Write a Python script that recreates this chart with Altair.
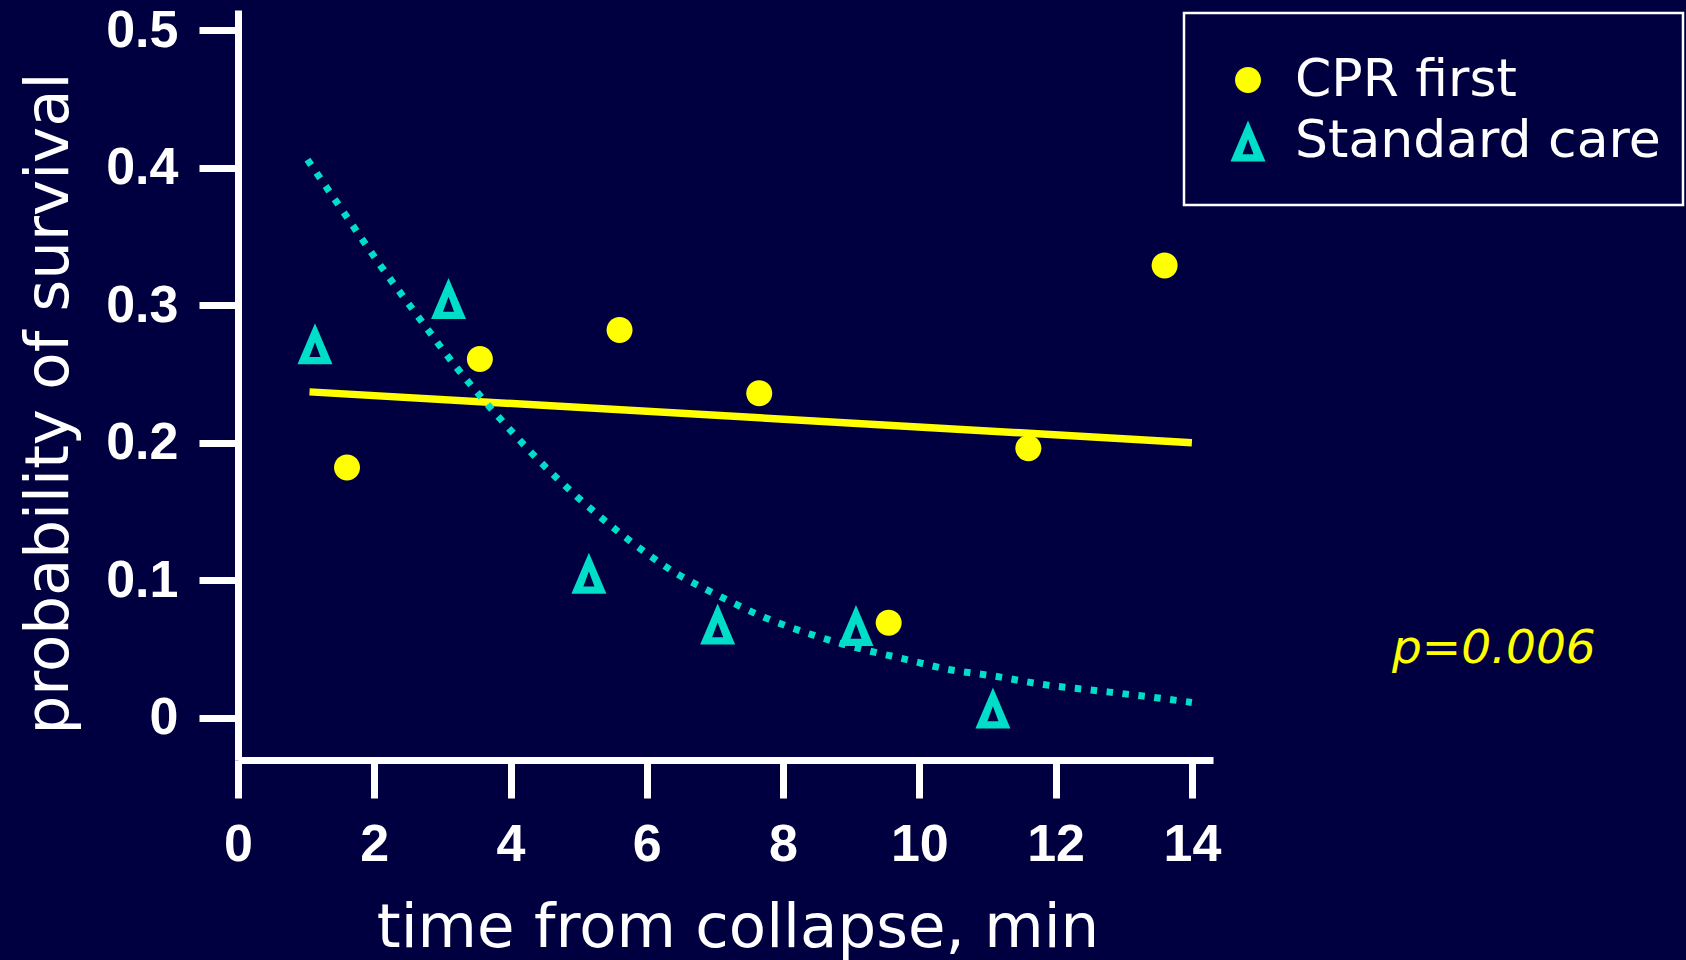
import altair as alt
import pandas as pd

# ---------------- data ----------------
series = ["CPR first", "Standard care"]

cpr_time = [1.6, 3.55, 5.6, 7.65, 9.55, 11.6, 13.6]
cpr_prob = [0.182, 0.261, 0.282, 0.236, 0.069, 0.196, 0.329]

std_time = [1.13, 3.09, 5.15, 7.04, 9.07, 11.08]
std_prob = [0.272, 0.305, 0.105, 0.068, 0.067, 0.007]

cpr_fit_time = [1.05, 14.0]
cpr_fit_prob = [0.237, 0.200]

std_fit_time = [1.02, 1.56, 2.09, 2.64, 3.22, 3.82, 4.30, 4.97, 5.69, 6.43,
                7.08, 7.72, 8.38, 9.06, 9.74, 10.43, 11.12, 11.82, 12.52, 13.22, 14.0]
std_fit_prob = [0.406, 0.367, 0.329, 0.292, 0.254, 0.219, 0.193, 0.161, 0.131, 0.105,
                0.088, 0.073, 0.061, 0.051, 0.043, 0.035, 0.030, 0.024, 0.020, 0.016, 0.011]

x_ticks = [0, 2, 4, 6, 8, 10, 12, 14]
y_ticks = [0, 0.1, 0.2, 0.3, 0.4, 0.5]
p_label = ["p=0.006"]

# ---------------- style ----------------
BG = "#000040"
YELLOW = "#FFFF00"
CYAN = "#00DDC8"
WHITE = "#FFFFFF"

CIRCLE = "M-0.634,0A0.634,0.634,0,1,0,0.634,0A0.634,0.634,0,1,0,-0.634,0Z"
TRIANGLE = ("M0,-1L0.854,1L-0.854,1Z"
            "M0,-0.08L-0.27,0.645L0.27,0.645Z")

x_scale = alt.Scale(domain=[0, 14.31], nice=False, zero=False)
y_scale = alt.Scale(domain=[-0.0309, 0.5149], nice=False, zero=False)

common_axis = dict(
    grid=False,
    domainColor=WHITE, domainWidth=7,
    tickColor=WHITE, tickWidth=7,
    labelFont="Liberation Sans", labelFontWeight="bold", labelFontSize=52,
    labelColor=WHITE, labelPadding=21, labelFlush=False, labelOverlap=False,
    titleFont="DejaVu Sans", titleFontSize=61, titleFontWeight="normal",
    titleColor=WHITE, titleBaseline="alphabetic", titleAlign="center",
)

x_axis = alt.Axis(values=x_ticks, format="d", title="time from collapse, min",
                  tickSize=38, titleX=499.5, titleY=186, **common_axis)
y_axis = alt.Axis(values=y_ticks, format=".1~f", title="probability of survival",
                  tickSize=39, titleAngle=270, titleX=-171, titleY=393, **common_axis)


def xenc():
    return alt.X("time:Q", scale=x_scale, axis=x_axis)


def yenc():
    return alt.Y("prob:Q", scale=y_scale, axis=y_axis)


pts = pd.DataFrame({
    "time": cpr_time + std_time,
    "prob": cpr_prob + std_prob,
    "group": [series[0]] * len(cpr_time) + [series[1]] * len(std_time),
})

legend = alt.Legend(
    title=None, orient="none", legendX=984, legendY=44, padding=0,
    labelFont="DejaVu Sans", labelFontSize=52, labelColor=WHITE, labelLimit=800,
    labelOffset=21, symbolSize=1681, symbolStrokeWidth=0, symbolOpacity=1,
    rowPadding=9,
)

points = alt.Chart(pts).mark_point(filled=True, size=1681, opacity=1, strokeWidth=0).encode(
    x=xenc(), y=yenc(),
    color=alt.Color("group:N", scale=alt.Scale(domain=series, range=[YELLOW, CYAN]), legend=legend),
    shape=alt.Shape("group:N", scale=alt.Scale(domain=series, range=[CIRCLE, TRIANGLE]), legend=legend),
)

cpr_line = alt.Chart(pd.DataFrame({"time": cpr_fit_time, "prob": cpr_fit_prob})).mark_line(
    color=YELLOW, strokeWidth=7.5, strokeCap="butt"
).encode(x=xenc(), y=yenc())

std_line = alt.Chart(pd.DataFrame({"time": std_fit_time, "prob": std_fit_prob})).mark_line(
    color=CYAN, strokeWidth=7, strokeDash=[6.5, 9.5], strokeCap="butt", interpolate="monotone"
).encode(x=xenc(), y=yenc())

box = alt.Chart(pd.DataFrame({"k": [0]})).mark_rect(
    fillOpacity=0, stroke=WHITE, strokeWidth=2.5
).encode(x=alt.value(946), x2=alt.value(1445), y=alt.value(3), y2=alt.value(195))

ptext = alt.Chart(pd.DataFrame({"label": p_label})).mark_text(
    align="left", baseline="alphabetic", font="DejaVu Sans", fontSize=47,
    fontStyle="italic", color=YELLOW
).encode(x=alt.value(1154), y=alt.value(653), text="label:N")

chart = alt.layer(cpr_line, std_line, points, box, ptext).properties(
    width=975, height=750,
    autosize=alt.AutoSizeParams(type="none"),
    padding={"left": 238, "top": 10, "right": 473, "bottom": 200},
).configure(background=BG).configure_view(strokeWidth=0)

page_css = ("html,body{margin:0;padding:0;background:#000040;overflow:hidden}"
            ".vega-embed{display:block;position:relative}"
            ".vega-embed svg{display:block}")

chart.save("out.html", embed_options={"renderer": "svg", "actions": False,
                                      "defaultStyle": page_css})
